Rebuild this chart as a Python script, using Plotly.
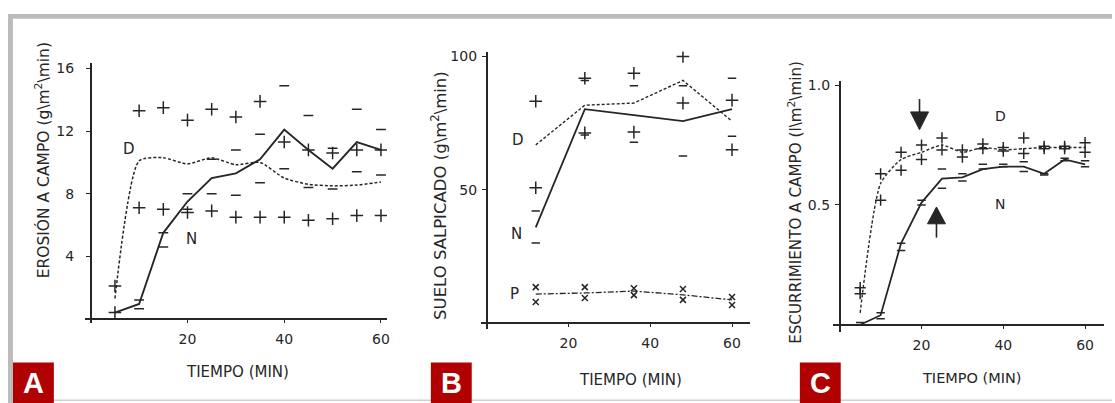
import plotly.graph_objects as go

# ---------------- data ----------------
# Panel A: erosión a campo (g\m2\min)
time_A = [5, 10, 15, 20, 25, 30, 35, 40, 45, 50, 55, 60]
N_A = [0.4, 0.95, 5.5, 7.5, 9.0, 9.3, 10.2, 12.1, 10.8, 9.6, 11.3, 10.8]
D_A = [1.3, 10.1, 10.3, 9.9, 10.3, 9.85, 10.0, 9.0, 8.6, 8.5, 8.55, 8.75]
D_A_hi = [2.1, 13.3, 13.5, 12.7, 13.4, 12.9, 13.9, 11.3, 10.8, 10.6, 10.8, 10.8]
D_A_lo = [0.4, 7.1, 7.0, 6.8, 6.9, 6.5, 6.5, 6.5, 6.3, 6.4, 6.6, 6.6]
N_A_hi = [None, 1.2, 5.5, 8.0, 10.2, 10.8, 11.8, 14.9, 13.0, 10.9, 13.4, 12.1]
N_A_lo = [None, 0.65, 4.6, 7.0, 8.0, 7.9, 8.7, 9.6, 8.4, 8.3, 9.4, 9.2]

# Panel B: suelo salpicado (g\m2\min)
time_B = [12, 24, 36, 48, 60]
N_B = [35.8, 80.2, 78.0, 75.7, 80.2]
D_B = [66.8, 81.7, 82.5, 91.0, 75.7]
P_B = [10.8, 11.2, 11.9, 10.5, 8.6]
D_B_hi = [83.2, 91.8, 93.7, 100.0, 83.6]
D_B_lo = [50.7, 71.3, 71.6, 82.5, 65.0]
N_B_hi = [42.0, 91.0, 89.0, 89.0, 91.8]
N_B_lo = [30.0, 70.5, 67.8, 62.6, 70.0]
P_B_hi = [13.4, 13.4, 13.0, 12.7, 9.7]
P_B_lo = [7.8, 9.3, 10.4, 8.6, 6.7]

# Panel C: escurrimiento a campo (l\m2\min)
time_C = [5, 10, 15, 20, 25, 30, 35, 40, 45, 50, 55, 60]
N_C = [0.0, 0.04, 0.34, 0.51, 0.61, 0.615, 0.65, 0.66, 0.66, 0.63, 0.69, 0.67]
D_C = [0.05, 0.59, 0.69, 0.72, 0.75, 0.72, 0.74, 0.73, 0.735, 0.74, 0.74, 0.74]
D_C_hi = [0.155, 0.63, 0.72, 0.75, 0.78, 0.73, 0.755, 0.74, 0.78, 0.745, 0.745, 0.76]
D_C_lo = [0.13, 0.52, 0.645, 0.69, 0.73, 0.70, 0.735, 0.725, 0.715, 0.735, 0.735, 0.72]
N_C_hi = [0.01, 0.05, 0.34, 0.52, 0.65, 0.63, 0.67, 0.67, 0.68, 0.63, 0.695, 0.685]
N_C_lo = [None, 0.025, 0.31, 0.50, 0.57, 0.60, 0.65, 0.66, 0.64, 0.625, 0.685, 0.66]

x_ticks = [20, 40, 60]
x_ticklabels = ["20", "40", "60"]
yA_ticks = [4, 8, 12, 16]
yB_ticks = [50, 100]
yC_ticks = [0.5, 1.0]
yC_ticklabels = ["0.5", "1.0"]

x_title = "TIEMPO (MIN)"
y_titles = ["EROSIÓN A CAMPO (g\\m<sup>2</sup>\\min)",
            "SUELO SALPICADO (g\\m<sup>2</sup>\\min)",
            "ESCURRIMIENTO A CAMPO (l\\m<sup>2</sup>\\min)"]
panel_letters = ["A", "B", "C"]

# ---------------- layout helpers ----------------
W, H = 1115, 403
INK = "#262626"
FONT = "DejaVu Sans, Liberation Sans, sans-serif"


def pxx(x):
    return x / W


def pxy(y):
    return 1 - y / H


fig = go.Figure()

# panel geometry: origin px, scale px/unit, axis extents
panels = [
    dict(x0=91, y0=318, sx=4.85, sy=15.8, xl=85, xr=388, yt=60, yb=322),
    dict(x0=488, y0=322, sx=4.1, sy=2.69, xl=482, xr=752, yt=48, yb=328),
    dict(x0=842, y0=324, sx=4.1, sy=242.0, xl=835, xr=1107, yt=78, yb=331),
]

layout_axes = {}
for i, p in enumerate(panels):
    sfx = "" if i == 0 else str(i + 1)
    layout_axes["xaxis" + sfx] = dict(
        domain=[pxx(p["xl"]), pxx(p["xr"])],
        range=[(p["xl"] - p["x0"]) / p["sx"], (p["xr"] - p["x0"]) / p["sx"]],
        anchor="free", position=pxy(p["y0"]),
        showline=True, linecolor=INK, linewidth=1.6,
        showgrid=False, zeroline=False,
        tickmode="array", tickvals=x_ticks, ticktext=x_ticklabels,
        ticks="outside", ticklen=3, tickcolor=INK, tickwidth=1.3,
        ticklabelstandoff=5,
        tickfont=dict(family=FONT, size=14, color=INK),
    )
    yt = dict(
        domain=[pxy(p["yb"]), pxy(p["yt"])],
        range=[(p["y0"] - p["yb"]) / p["sy"], (p["y0"] - p["yt"]) / p["sy"]],
        anchor="free", position=pxx(p["x0"]),
        showline=True, linecolor=INK, linewidth=1.6,
        showgrid=False, zeroline=False,
        ticks="outside", ticklen=4, tickcolor=INK, tickwidth=1.3,
        tickfont=dict(family=FONT, size=14, color=INK),
    )
    if i == 0:
        yt.update(tickmode="array", tickvals=yA_ticks, ticklabelstandoff=9)
    elif i == 1:
        yt.update(tickmode="array", tickvals=yB_ticks, ticklabelstandoff=2)
    else:
        yt.update(tickmode="array", tickvals=yC_ticks, ticktext=yC_ticklabels,
                  ticklabelstandoff=2)
    layout_axes["yaxis" + sfx] = yt


def line(x, y, ax, dash="solid", width=1.8, shape="linear"):
    fig.add_trace(go.Scatter(
        x=x, y=y, xaxis="x" + ax, yaxis="y" + ax, mode="lines",
        line=dict(color=INK, width=width, dash=dash, shape=shape,
                  smoothing=0.6),
        hoverinfo="skip"))


def marks(t, hi, lo, ax, symbol, size):
    fig.add_trace(go.Scatter(
        x=list(t) + list(t), y=list(hi) + list(lo),
        xaxis="x" + ax, yaxis="y" + ax, mode="markers",
        marker=dict(symbol=symbol, size=size, color=INK,
                    line=dict(color=INK, width=1.5)),
        hoverinfo="skip"))


# Panel A
line(time_A, D_A, "", dash="3px,2px", width=1.5, shape="spline")
line(time_A, N_A, "", width=1.9)
marks(time_A, D_A_hi, D_A_lo, "", "cross-thin-open", 9)
marks(time_A, N_A_hi, N_A_lo, "", "line-ew-open", 7)

# Panel B
line(time_B, D_B, "2", dash="3px,2px", width=1.4)
line(time_B, N_B, "2", width=1.8)
line(time_B, P_B, "2", dash="6px,2px,2px,2px", width=1.3)
marks(time_B, D_B_hi, D_B_lo, "2", "cross-thin-open", 9)
marks(time_B, N_B_hi, N_B_lo, "2", "line-ew-open", 6)
marks(time_B, P_B_hi, P_B_lo, "2", "x-thin-open", 6)

# Panel C
line(time_C, D_C, "3", dash="3px,2px", width=1.4, shape="spline")
line(time_C, N_C, "3", width=1.8)
marks(time_C, D_C_hi, D_C_lo, "3", "cross-thin-open", 8)
marks(time_C, N_C_hi, N_C_lo, "3", "line-ew-open", 6)

annotations = []


def text(x, y, s, size=13, angle=0, color=INK):
    annotations.append(dict(
        x=pxx(x), y=pxy(y), xref="paper", yref="paper", text=s,
        showarrow=False, xanchor="center", yanchor="middle",
        textangle=angle,
        font=dict(family=FONT, size=size, color=color)))


# axis titles
text(238, 372, x_title, size=15)
text(632, 380, x_title, size=15)
text(975, 378, x_title, size=14.5)
text(43, 158, y_titles[0], size=15.5, angle=-90)
text(440, 193, y_titles[1], size=16.5, angle=-90)
text(797, 200, y_titles[2], size=15.2, angle=-90)

# series labels
text(129, 146, "D", size=15)
text(192, 237, "N", size=15)
text(519, 137, "D", size=15)
text(518, 232, "N", size=15)
text(516, 293, "P", size=15)
text(1003, 113, "D", size=14)
text(1003, 202, "N", size=14)

shapes = []
GRAY = "#bcbcbc"
# frame
shapes.append(dict(type="rect", xref="paper", yref="paper", x0=pxx(8), x1=pxx(1115),
                   y0=pxy(15), y1=pxy(10), fillcolor=GRAY, line_width=0, layer="below"))
shapes.append(dict(type="rect", xref="paper", yref="paper", x0=pxx(8), x1=pxx(13),
                   y0=pxy(403), y1=pxy(10), fillcolor=GRAY, line_width=0, layer="below"))
shapes.append(dict(type="rect", xref="paper", yref="paper", x0=pxx(13), x1=pxx(1115),
                   y0=pxy(401), y1=pxy(399.5), fillcolor="#d0d0d0", line_width=0, layer="below"))

# panel letter boxes
RED = "#b10000"
for letter, bx in zip(panel_letters, [13, 432, 802]):
    shapes.append(dict(type="rect", xref="paper", yref="paper", x0=pxx(bx), x1=pxx(bx + 41),
                       y0=pxy(403), y1=pxy(362), fillcolor=RED, line_width=0))
    annotations.append(dict(
        x=pxx(bx + 20.5), y=pxy(383), xref="paper", yref="paper",
        text="<b>" + letter + "</b>", showarrow=False,
        xanchor="center", yanchor="middle",
        font=dict(family="Liberation Sans, Arial, DejaVu Sans", size=29, color="white")))


# arrows in panel C
def path(points):
    s = "M " + " L ".join(f"{pxx(x)},{pxy(y)}" for x, y in points) + " Z"
    return s


shapes.append(dict(type="line", xref="paper", yref="paper", x0=pxx(922), x1=pxx(922),
                   y0=pxy(96), y1=pxy(112), line=dict(color=INK, width=1.6)))
shapes.append(dict(type="path", xref="paper", yref="paper",
                   path=path([(913, 109), (931, 109), (922, 127)]),
                   fillcolor=INK, line=dict(color=INK, width=1)))
shapes.append(dict(type="line", xref="paper", yref="paper", x0=pxx(939), x1=pxx(939),
                   y0=pxy(220), y1=pxy(236), line=dict(color=INK, width=1.6)))
shapes.append(dict(type="path", xref="paper", yref="paper",
                   path=path([(930, 222), (948, 222), (939, 205)]),
                   fillcolor=INK, line=dict(color=INK, width=1)))

fig.update_layout(
    width=W, height=H,
    margin=dict(l=0, r=0, t=0, b=0),
    paper_bgcolor="white", plot_bgcolor="rgba(0,0,0,0)",
    showlegend=False,
    annotations=annotations,
    shapes=shapes,
    **layout_axes,
)

fig.write_html("out.html")
